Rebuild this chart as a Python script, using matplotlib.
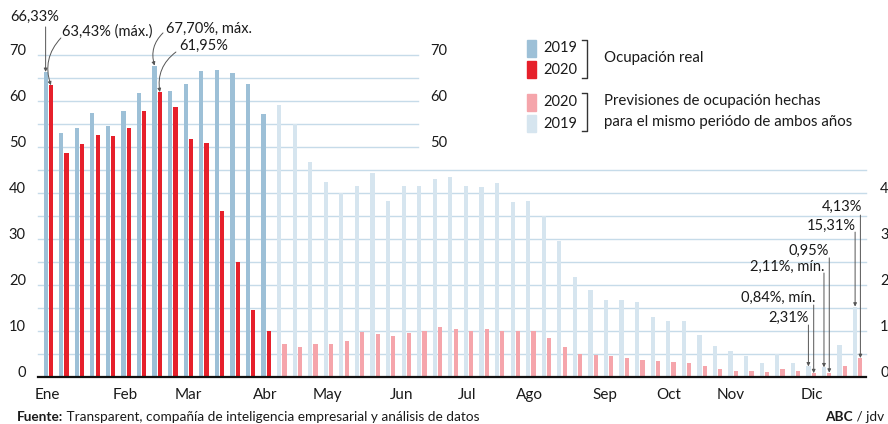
import matplotlib.pyplot as plt
import numpy as np
from matplotlib.patches import Rectangle
from matplotlib.lines import Line2D

# Ocupación hotelera semanal (%)
real_2019 = [66.33, 53.0, 54.2, 57.5, 54.6, 57.8, 61.8, 67.70, 62.2, 63.7,
             66.45, 66.7, 66.0, 63.6, 57.1]
real_2020 = [63.43, 48.8, 50.6, 52.6, 52.5, 54.2, 57.8, 61.95, 58.7, 51.7,
             50.9, 36.1, 24.9, 14.6, 9.9]
prev_2019 = [59.1, 55.1, 46.8, 42.5, 40.0, 41.5, 44.3, 38.3, 41.6, 41.6,
             43.1, 43.55, 41.5, 41.4, 42.2, 38.1, 38.3, 34.9, 29.6, 21.7,
             19.0, 16.8, 16.7, 16.2, 13.0, 12.1, 12.1, 9.1, 6.7, 5.6,
             4.5, 3.0, 4.9, 3.0, 2.31, 2.11, 6.9, 15.31]
prev_2020 = [7.2, 6.6, 7.2, 7.1, 7.75, 9.8, 9.3, 8.9, 9.6, 10.1,
             10.9, 10.4, 10.0, 10.4, 10.1, 9.9, 10.1, 8.4, 6.6, 5.1,
             4.7, 4.5, 4.1, 3.6, 3.4, 3.2, 3.0, 2.3, 1.7, 1.4,
             1.2, 1.0, 1.8, 1.2, 0.84, 0.95, 2.3, 4.13]

meses = ['Ene', 'Feb', 'Mar', 'Abr', 'May', 'Jun', 'Jul', 'Ago', 'Sep', 'Oct', 'Nov', 'Dic']
pos_meses = [0.1, 5.1, 9.15, 14.1, 18.1, 22.9, 27.1, 31.1, 35.9, 40.0, 44.0, 49.2]

AZUL = '#9dc0d7'
ROJO = '#e6202b'
ROSA = '#f5a5ab'
AZUL_CLARO = '#d6e5ef'
GRID = '#c6dbe9'
TXT = '#1a1a1a'

plt.rcParams['font.family'] = ['Lato', 'DejaVu Sans']
plt.rcParams['font.size'] = 10

W, H = 888, 424
fig = plt.figure(figsize=(W / 100, H / 100), dpi=100)
ax = fig.add_axes([38 / W, 47 / H, 828 / W, 322 / H])
ax.set_xlim(-0.49, 52.7)
ax.set_ylim(0, 70)
ax.axis('off')

def fx(x):
    return x / W

def fy(y):
    return 1 - y / H

# lineas de referencia
for v in range(5, 50, 5):
    ax.plot([-0.49, 52.7], [v, v], color=GRID, lw=1, zorder=0, clip_on=False)
for v in range(50, 75, 5):
    ax.plot([-0.49, 23.9], [v, v], color=GRID, lw=1, zorder=0, clip_on=False)

sem_real = np.arange(len(real_2019))
sem_prev = np.arange(len(real_2019), len(real_2019) + len(prev_2019))
off = 0.34
bw = 0.27
ax.bar(sem_real, real_2019, width=bw, color=AZUL, zorder=2)
ax.bar(sem_real + off, real_2020, width=bw, color=ROJO, zorder=2)
ax.bar(sem_prev, prev_2019, width=bw, color=AZUL_CLARO, zorder=2)
ax.bar(sem_prev + off, prev_2020, width=bw, color=ROSA, zorder=2)

ax.plot([-0.49, 52.7], [0, 0], color='#111111', lw=1.6, zorder=3, clip_on=False)

# etiquetas de ejes (las de la derecha quedan cortadas por el borde, como en el original)
for v in range(0, 80, 10):
    ax.text(-1.27, v, str(v), ha='right', va='baseline', color=TXT, fontsize=10.5)
for v in [50, 60, 70]:
    ax.text(24.7, v, str(v), ha='left', va='baseline', color=TXT, fontsize=10.5)
for v in range(0, 50, 10):
    ax.text(53.6, v, str(v), ha='left', va='baseline', color=TXT, fontsize=10.5,
            clip_on=False)
for m, p in zip(meses, pos_meses):
    ax.text(p, -3.9, m, ha='center', va='center', color=TXT, fontsize=11)

# anotaciones
flecha = dict(arrowstyle='-|>', color='#555555', lw=0.7, mutation_scale=5,
              shrinkA=0, shrinkB=0)

def nota(txt, tx, ty, ha, ax0, ay0, bx, by, rad=0.0):
    ax.text(tx, ty, txt, ha=ha, va='center', color=TXT, fontsize=10.5)
    p = dict(flecha, connectionstyle='arc3,rad=%s' % rad)
    ax.annotate('', xy=(bx, by), xytext=(ax0, ay0), arrowprops=p,
                annotation_clip=False)

nota('66,33%', -2.29, 78.3, 'left', 0, 76.1, 0, real_2019[0])
nota('63,43% (máx.)', 1.05, 75.2, 'left', 0.98, 73.7, off, real_2020[0], 0.3)
nota('67,70%, máx.', 7.73, 75.65, 'left', 7.54, 74.8, 7, real_2019[7], 0.3)
nota('61,95%', 8.57, 71.96, 'left', 8.37, 70.65, 7 + off, real_2020[7], 0.3)

nota('4,13%', 52.46, 36.96, 'right', 52 + off, 35.2, 52 + off, prev_2020[-1])
nota('15,31%', 52.01, 32.8, 'right', 52, 31.5, 52, prev_2019[-1])
nota('0,95%', 50.34, 27.4, 'right', 50 + off, 25.9, 50 + off, prev_2020[-3])
nota('2,11%, mín.', 50.02, 23.9, 'right', 50, 22.6, 50, prev_2019[-3])
nota('0,84%, mín.', 49.44, 17.2, 'right', 49 + off, 15.65, 49 + off, prev_2020[-4])
nota('2,31%', 49.0, 12.8, 'right', 49, 11.3, 49, prev_2019[-4])

# leyenda
swatches = [(AZUL, '2019', 40), (ROJO, '2020', 61), (ROSA, '2020', 94), (AZUL_CLARO, '2019', 115)]
for col, lab, y0 in swatches:
    fig.add_artist(Rectangle((fx(527), fy(y0 + 17)), 9 / W, 17 / H, color=col,
                             transform=fig.transFigure))
    fig.text(fx(543), fy(y0 + 8.5), lab, ha='left', va='center', color=TXT, fontsize=10.5)
for y0, y1 in [(40, 78), (93, 131)]:
    fig.add_artist(Line2D([fx(582), fx(587), fx(587), fx(582)],
                          [fy(y0), fy(y0), fy(y1), fy(y1)], color='#333333', lw=1,
                          transform=fig.transFigure))
fs_ley = 10.8
fig.text(fx(604), fy(58), 'Ocupación real', ha='left', va='center', color=TXT, fontsize=fs_ley)
fig.text(fx(604), fy(101), 'Previsiones de ocupación hechas', ha='left', va='center',
         color=TXT, fontsize=fs_ley)
fig.text(fx(604), fy(122), 'para el mismo periódo de ambos años', ha='left', va='center',
         color=TXT, fontsize=fs_ley)

# pie
fs_pie = 9.8
t1 = fig.text(fx(17), fy(417), 'Fuente:', ha='left', va='center', color=TXT,
              fontsize=fs_pie, fontweight='bold')
fig.add_artist(plt.Annotation(' Transparent, compañía de inteligencia empresarial y análisis de datos',
                              xy=(1, 0), xycoords=t1, va='bottom', ha='left',
                              color=TXT, fontsize=fs_pie))
t2 = fig.text(fx(884), fy(417), ' / jdv', ha='right', va='center', color=TXT,
              fontsize=fs_pie)
fig.add_artist(plt.Annotation('ABC', xy=(0, 0), xycoords=t2, va='bottom', ha='right',
                              color=TXT, fontsize=fs_pie, fontweight='bold'))

fig.savefig('out.png', dpi=100)
